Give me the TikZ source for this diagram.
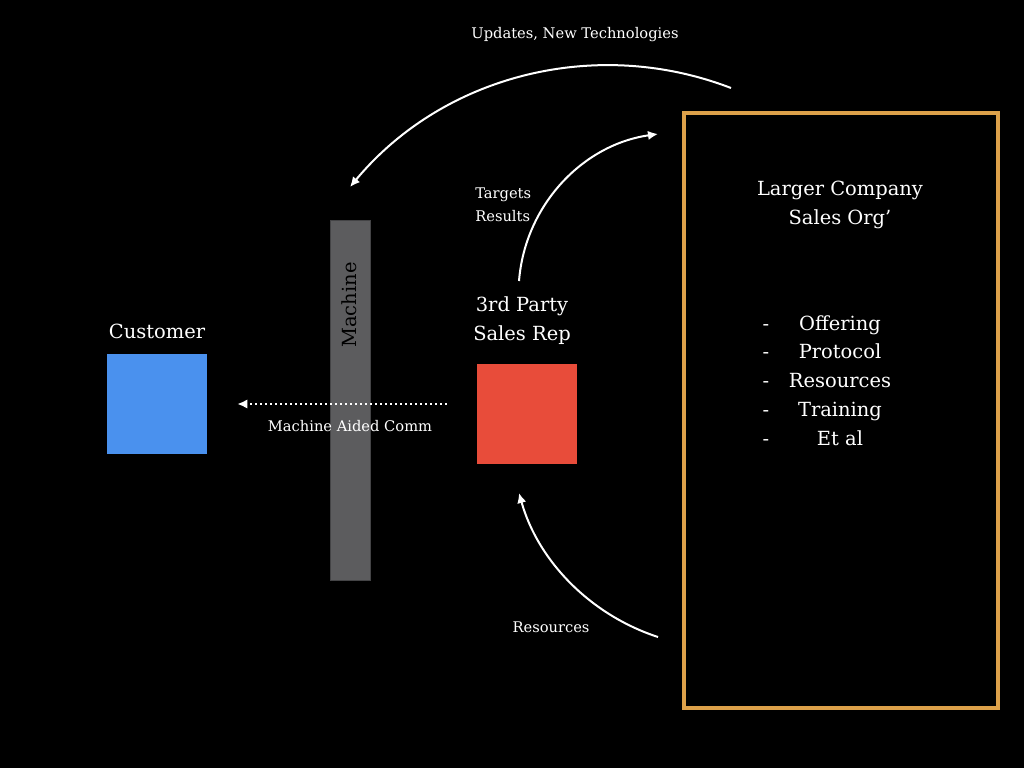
\documentclass[tikz,border=0pt]{standalone}
\usepackage{fontspec}
\setmainfont{DejaVu Serif}
\usetikzlibrary{arrows.meta}

\definecolor{custblue}{RGB}{74,145,238}
\definecolor{repred}{RGB}{232,76,58}
\definecolor{machgray}{RGB}{92,92,94}
\definecolor{orgorange}{RGB}{221,161,74}

\tikzset{
  bigtext/.style={text=white, font=\fontsize{14.6}{21.75}\selectfont, align=center, inner sep=0.75pt},
  smalltext/.style={text=white, font=\fontsize{11}{17}\selectfont, align=center, inner sep=0.75pt},
  flow/.style={draw=white, line width=1.5pt, -{Latex[length=7.5pt,width=7pt]}},
}

\begin{document}
\begin{tikzpicture}[x=0.75pt,y=0.75pt,yscale=-1,xscale=1]
\path[use as bounding box, fill=black] (0,0) rectangle (1024,768);

%Shape: Customer square
\node (customer) [fill=custblue, minimum size=75pt, inner sep=0pt] at (157,404) {};
%Shape: Machine bar
\node (machine) [fill=machgray, draw={rgb,255:red,68;green,68;blue,70}, line width=0.75pt, minimum width=30pt, minimum height=270pt, inner sep=0pt] at (350,400) {};
%Shape: Sales rep square
\node (rep) [fill=repred, minimum size=75pt, inner sep=0pt] at (527,414) {};
%Shape: Sales org box
\node (org) [draw=orgorange, line width=3.4pt, minimum width=235.5pt, minimum height=446.25pt, inner sep=0pt] at (841,410.5) {};

%Free ends of the curved connectors
\coordinate (updfrom) at (731,88);
\coordinate (updto) at (350,187);
\coordinate (tgtfrom) at (519,281);
\coordinate (tgtto) at (658,134);
\coordinate (resfrom) at (658,637);
\coordinate (resto) at (519,493);

%Curve: Updates
\draw [flow] (updfrom) .. controls (596,36) and (443,75) .. (updto);
%Curve: Targets
\draw [flow] (tgtfrom) .. controls (525,205) and (583,144.5) .. (tgtto);
%Curve: Resources
\draw [flow] (resfrom) .. controls (590.5,615) and (538,561) .. (resto);
%Straight Lines: Machine aided comm
\draw [flow, dash pattern=on 1.5pt off 2.25pt, shorten <=22.5pt, shorten >=22.5pt] (customer.east -| rep.west) -- (customer.east);

% Text Node
\node (custlabel) [bigtext] at (157,331) {Customer};
% Text Node
\node (replabel) [bigtext] at (522,321) {3rd Party\\Sales Rep};
% Text Node
\node (machlabel) [bigtext, text=black, rotate=90] at (349,305) {Machine};
% Text Node
\node (orglabel) [bigtext] at (840,205) {Larger Company\\Sales Org’};
% Text Node
\node (updlabel) [smalltext] at (575,35) {Updates, New Technologies};
% Text Node
\node (tgtlabel) [smalltext, anchor=west, align=left] at (474,205) {Targets\\Results};
% Text Node
\node (reslabel) [smalltext] at (551,627) {Resources};
% Text Node
\node (commlabel) [smalltext] at (350,426) {Machine Aided Comm};

% Text Node
\node (dash1) [bigtext] at (766,325) {\strut-};
\node (item1) [bigtext] at (840,325) {\strut Offering};
% Text Node
\node (dash2) [bigtext] at (766,353) {\strut-};
\node (item2) [bigtext] at (840,353) {\strut Protocol};
% Text Node
\node (dash3) [bigtext] at (766,382) {\strut-};
\node (item3) [bigtext] at (840,382) {\strut Resources};
% Text Node
\node (dash4) [bigtext] at (766,411) {\strut-};
\node (item4) [bigtext] at (840,411) {\strut Training};
% Text Node
\node (dash5) [bigtext] at (766,440) {\strut-};
\node (item5) [bigtext] at (840,440) {\strut Et al};
\end{tikzpicture}
\end{document}
